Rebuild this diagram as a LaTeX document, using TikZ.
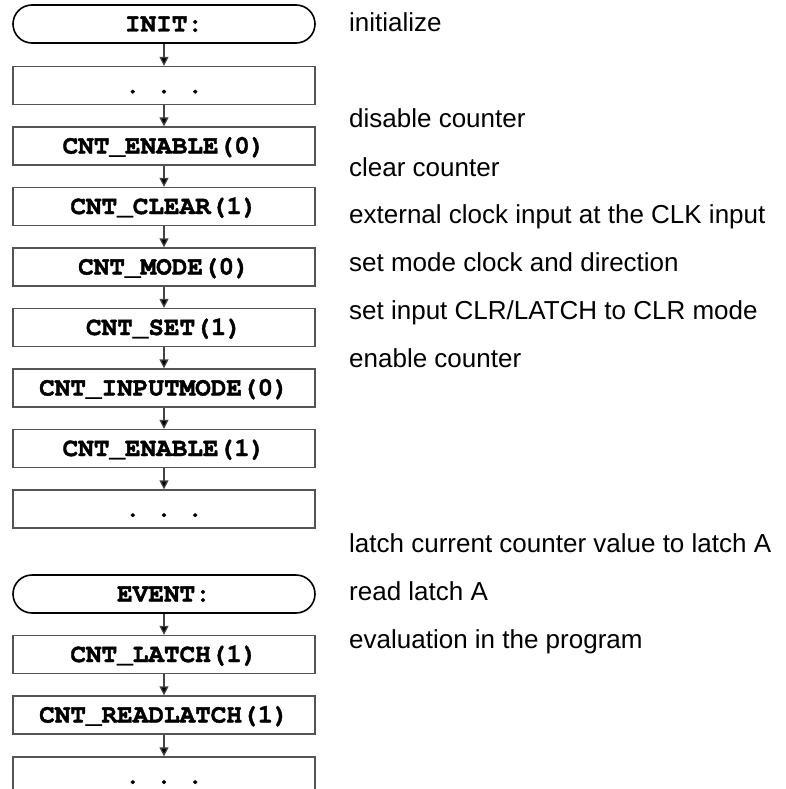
\documentclass[tikz,border=0pt]{standalone}
\usepackage[T1]{fontenc}
\usepackage{fontspec}
\setmainfont{Liberation Sans}
\newcommand{\courb}{\fontencoding{T1}\fontfamily{pcr}\fontseries{b}\selectfont}
\newcommand{\heavytext}[1]{\special{pdf:literal direct 2 Tr 0.4 w}#1\special{pdf:literal direct 0 Tr}}
\usetikzlibrary{arrows.meta,shapes.misc}
\definecolor{boxgray}{HTML}{555555}
\definecolor{arrgray}{HTML}{444444}
\begin{document}
\begin{tikzpicture}[x=1pt,y=-1pt,
  stepbox/.style={draw=boxgray, line width=1.3pt, minimum width=302pt, minimum height=38pt,
    inner sep=0pt, font=\courb\fontsize{26}{30}\selectfont, text height=15pt, text depth=0pt},
  termbox/.style={stepbox, draw=black, line width=1.6pt, rounded rectangle},
  conn/.style={draw=arrgray, line width=1.3pt, -{Triangle[length=9pt,width=9pt,fill=black]}},
  note/.style={anchor=base west, inner sep=0pt, font=\fontsize{26}{30}\selectfont}]
\clip (0,0) rectangle (786,789);
% top group
\node[termbox] (init) at (164,24) {\heavytext{INIT:}};
\node[stepbox] (d1) at (164,85.5) {\heavytext{.\ .\ .}};
\node[stepbox] (en0) at (164,146) {\heavytext{CNT\_ENABLE(0)}};
\node[stepbox] (clr) at (164,206.5) {\heavytext{CNT\_CLEAR(1)}};
\node[stepbox] (mode) at (164,267) {\heavytext{CNT\_MODE(0)}};
\node[stepbox] (set) at (164,327.5) {\heavytext{CNT\_SET(1)}};
\node[stepbox] (inp) at (164,388) {\heavytext{CNT\_INPUTMODE(0)}};
\node[stepbox] (en1) at (164,448.5) {\heavytext{CNT\_ENABLE(1)}};
\node[stepbox] (d2) at (164,509) {\heavytext{.\ .\ .}};
% bottom group
\node[termbox] (ev) at (164,594) {\heavytext{EVENT:}};
\node[stepbox] (lat) at (164,654.5) {\heavytext{CNT\_LATCH(1)}};
\node[stepbox] (rdl) at (164,715) {\heavytext{CNT\_READLATCH(1)}};
\node[stepbox] (d3) at (164,776) {\heavytext{.\ .\ .}};
% connectors
\foreach \a/\b in {init/d1,d1/en0,en0/clr,clr/mode,mode/set,set/inp,inp/en1,en1/d2,ev/lat,lat/rdl,rdl/d3}
  \draw[conn] (\a.south) -- (\b.north);
% notes
\node[note] (n1) at (349,31.5) {initialize};
\node[note] (n2) at (349,128) {disable counter};
\node[note] (n3) at (349,176) {clear counter};
\node[note] (n4) at (349,223.5) {external clock input at the CLK input};
\node[note] (n5) at (349,271.5) {set mode clock and direction};
\node[note] (n6) at (349,319.5) {set input CLR/LATCH to CLR mode};
\node[note] (n7) at (349,367) {enable counter};
\node[note] (n8) at (349,552) {latch current counter value to latch A};
\node[note] (n9) at (349,600) {read latch A};
\node[note] (n10) at (349,648) {evaluation in the program};
\end{tikzpicture}
\end{document}
